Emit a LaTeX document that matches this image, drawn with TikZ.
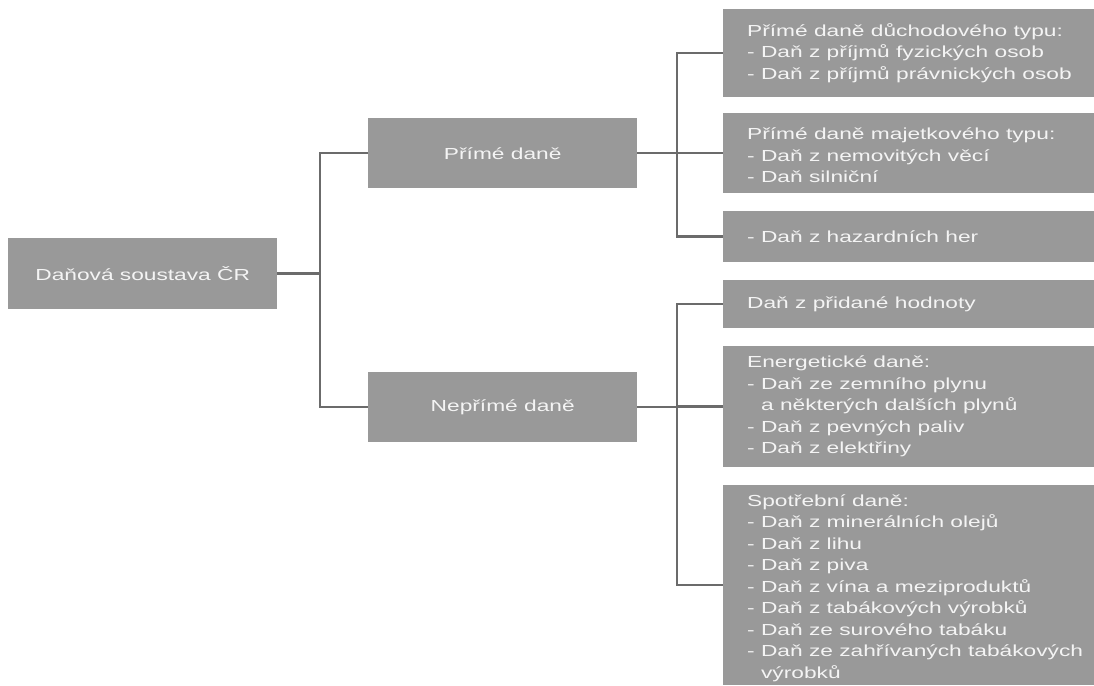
\documentclass[tikz,border=0pt]{standalone}
\usepackage{fontspec}
\setmainfont{Liberation Sans}[FakeStretch=1.42]
\definecolor{boxgray}{HTML}{999999}
\definecolor{linegray}{HTML}{6B6B6B}
\definecolor{txtc}{HTML}{F4F4F4}
\tikzset{
  box/.style={rectangle, fill=boxgray, inner sep=0pt, anchor=north west, text=txtc,
    font=\fontsize{16pt}{21.5pt}\selectfont},
  lbl/.style={text=txtc, font=\fontsize{16pt}{21.5pt}\selectfont, align=left, inner sep=0pt, anchor=west},
  conn/.style={draw=linegray, line width=2.5pt}
}
\newcommand{\ind}{\phantom{- }}
\begin{document}
\begin{tikzpicture}[x=1pt,y=-1pt]
\useasboundingbox[fill=white] (0,0) rectangle (1094,685);
% left and middle boxes
\node[box, minimum width=269pt, minimum height=71pt] (root) at (8,238) {Daňová soustava ČR};
\node[box, minimum width=269pt, minimum height=70pt] (pd) at (368,118) {Přímé daně};
\node[box, minimum width=269pt, minimum height=70pt] (npd) at (368,372) {Nepřímé daně};
% right boxes
\node[box, minimum width=371pt, minimum height=88pt] (b1) at (723,9) {};
\node[box, minimum width=371pt, minimum height=80pt] (b2) at (723,113) {};
\node[box, minimum width=371pt, minimum height=51pt] (b3) at (723,211) {};
\node[box, minimum width=371pt, minimum height=48pt] (b4) at (723,280) {};
\node[box, minimum width=371pt, minimum height=121pt] (b5) at (723,346) {};
\node[box, minimum width=371pt, minimum height=200pt] (b6) at (723,485) {};
% texts
\node[lbl] (t1) at ([xshift=24pt]b1.west) {Přímé daně důchodového typu:\\- Daň z příjmů fyzických osob\\- Daň z příjmů právnických osob};
\node[lbl] (t2) at ([xshift=24pt,yshift=-2pt]b2.west) {Přímé daně majetkového typu:\\- Daň z nemovitých věcí\\- Daň silniční};
\node[lbl] (t3) at ([xshift=24pt]b3.west) {- Daň z hazardních her};
\node[lbl] (t4) at ([xshift=24pt]b4.west) {Daň z přidané hodnoty};
\node[lbl] (t5) at ([xshift=24pt]b5.west) {Energetické daně:\\- Daň ze zemního plynu\\\ind a některých dalších plynů\\- Daň z pevných paliv\\- Daň z elektřiny};
\node[lbl] (t6) at ([xshift=24pt,yshift=-3pt]b6.west) {Spotřební daně:\\- Daň z minerálních olejů\\- Daň z lihu\\- Daň z piva\\- Daň z vína a meziproduktů\\- Daň z tabákových výrobků\\- Daň ze surového tabáku\\- Daň ze zahřívaných tabákových\\\ind výrobků};
% connectors
\coordinate (j1) at (320,0);
\coordinate (j2) at (677,0);
\draw[conn] (root.east) -- (root.east -| j1);
\draw[conn] (pd.west) -- (pd.west -| j1) -- (npd.west -| j1) -- (npd.west);
\draw[conn] (pd.east) -- (pd.east -| j2);
\draw[conn] (b1.west) -- (b1.west -| j2) -- (b3.west -| j2) -- (b3.west);
\draw[conn] (b2.west) -- (b2.west -| j2);
\draw[conn] (npd.east) -- (npd.east -| j2);
\draw[conn] (b4.west) -- (b4.west -| j2) -- (b6.west -| j2) -- (b6.west);
\draw[conn] (b5.west) -- (b5.west -| j2);
\end{tikzpicture}
\end{document}
